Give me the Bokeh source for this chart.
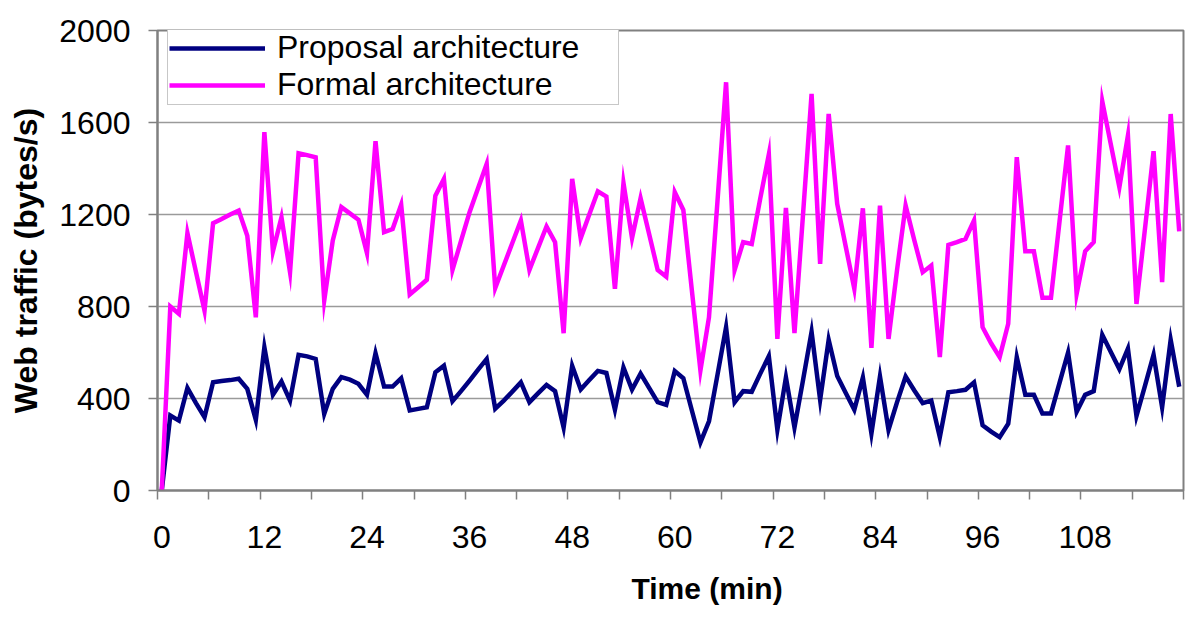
from bokeh.plotting import figure
from bokeh.models import Range1d, FixedTicker, Legend, LegendItem, Title
from bokeh.embed import file_html
from bokeh.resources import INLINE

# ---- data ----
time_min = list(range(120))

formal = [
    0, 800, 768, 1119, 950, 782, 1162, 1180, 1200, 1217,
    1108, 753, 1558, 1040, 1188, 949, 1466, 1458, 1449, 826,
    1087, 1232, 1205, 1177, 1032, 1519, 1123, 1137, 1243, 852,
    884, 916, 1282, 1355, 959, 1085, 1210, 1315, 1420, 880,
    978, 1076, 1174, 959, 1054, 1148, 1080, 684, 1355, 1097,
    1200, 1301, 1278, 877, 1337, 1097, 1271, 1115, 959, 930,
    1297, 1220, 870, 522, 753, 1260, 1775, 959, 1080, 1072,
    1270, 1461, 659, 1229, 684, 1200, 1724, 985, 1637, 1246,
    1060, 877, 1227, 620, 1239, 659, 960, 1239, 1090, 949,
    978, 580, 1068, 1080, 1094, 1174, 710, 640, 580, 725,
    1449, 1040, 1040, 838, 838, 1170, 1500, 855, 1040, 1080,
    1692, 1505, 1319, 1543, 811, 1140, 1475, 906, 1637, 1127,
]

proposal = [
    0, 326, 304, 446, 380, 319, 471, 476, 480, 486,
    442, 307, 623, 416, 474, 391, 590, 583, 572, 333,
    442, 493, 482, 464, 416, 597, 452, 452, 488, 348,
    355, 362, 514, 543, 388, 432, 478, 526, 572, 356,
    391, 430, 470, 384, 422, 459, 432, 274, 542, 439,
    480, 520, 511, 351, 535, 439, 508, 446, 384, 372,
    519, 488, 348, 209, 301, 504, 710, 384, 432, 429,
    508, 584, 264, 492, 274, 480, 690, 394, 655, 498,
    424, 351, 491, 248, 496, 264, 384, 496, 436, 380,
    391, 232, 427, 432, 438, 470, 284, 256, 232, 290,
    580, 416, 416, 335, 335, 468, 600, 342, 416, 432,
    677, 602, 528, 617, 324, 456, 590, 362, 655, 451,
]

x_tick_labels = [0, 12, 24, 36, 48, 60, 72, 84, 96, 108]
y_ticks = [0, 400, 800, 1200, 1600, 2000]
series_names = ["Proposal architecture", "Formal architecture"]

FONT = "Liberation Sans"

p = figure(
    output_backend="svg",
    toolbar_location=None,
    frame_width=1026,
    frame_height=460,
    min_border_left=157,
    min_border_right=17,
    min_border_top=30,
    min_border_bottom=128,
    x_range=Range1d(-0.5, 119.5),
    y_range=Range1d(0, 2000),
    background_fill_color="white",
    border_fill_color="white",
)

p.outline_line_color = "#808080"
p.outline_line_width = 2

# lines
r_prop = p.line(time_min, proposal, line_color="#000080", line_width=4.5, line_join="miter")
r_form = p.line(time_min, formal, line_color="#FF00FF", line_width=4.5, line_join="miter")

# grid
p.xgrid.visible = False
p.ygrid.ticker = FixedTicker(ticks=y_ticks)
p.ygrid.grid_line_color = "#9a9a9a"
p.ygrid.grid_line_width = 1.5

# x axis: labels every 12, tick marks between categories every 6
xa = p.xaxis[0]
minor = [-0.5 + 6 * k for k in range(21)]
xa.ticker = FixedTicker(ticks=x_tick_labels, minor_ticks=minor)
xa.major_tick_out = 0
xa.major_tick_in = 0
xa.minor_tick_out = 9
xa.minor_tick_in = 0
xa.minor_tick_line_color = "#808080"
xa.minor_tick_line_width = 1.5
xa.axis_line_color = "#808080"
xa.axis_line_width = 2
xa.major_label_text_font = FONT
xa.major_label_text_font_size = "32px"
xa.major_label_text_color = "black"
xa.major_label_standoff = 26

# x title (sits right of centre in the reference)
xtitle = Title(
    text="Time (min)",
    align="left",
    offset=474,
    text_font=FONT,
    text_font_style="bold",
    text_font_size="30px",
    text_color="black",
    standoff=39,
)
p.add_layout(xtitle, "below")

# y axis
ya = p.yaxis[0]
ya.ticker = FixedTicker(ticks=y_ticks, minor_ticks=[])
ya.major_tick_out = 9
ya.major_tick_in = 0
ya.major_tick_line_color = "#808080"
ya.major_tick_line_width = 1.5
ya.minor_tick_out = 0
ya.axis_line_color = "#808080"
ya.axis_line_width = 2
ya.major_label_text_font = FONT
ya.major_label_text_font_size = "32px"
ya.major_label_text_color = "black"
ya.major_label_standoff = 18
ya.axis_label = "Web traffic (bytes/s)"
ya.axis_label_text_font = FONT
ya.axis_label_text_font_style = "bold"
ya.axis_label_text_font_size = "32px"
ya.axis_label_text_color = "black"
ya.axis_label_standoff = 12

legend = Legend(
    items=[
        LegendItem(label=series_names[0], renderers=[r_prop]),
        LegendItem(label=series_names[1], renderers=[r_form]),
    ],
    location=(10, 385),
    label_text_font=FONT,
    label_text_font_size="32px",
    label_text_color="black",
    glyph_width=96,
    glyph_height=20,
    label_height=20,
    label_width=340,
    label_standoff=12,
    padding=1,
    spacing=-4,
    margin=0,
    border_line_color="#909090",
    border_line_width=1.5,
    background_fill_color="white",
    background_fill_alpha=1.0,
)
p.add_layout(legend, "center")

open("out.html", "w").write(file_html(p, INLINE))
